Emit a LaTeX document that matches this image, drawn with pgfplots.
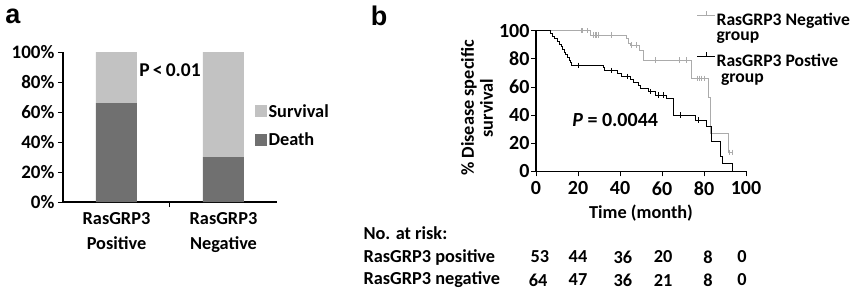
\documentclass[border=0pt]{standalone}
\usepackage{fontspec}
\setmainfont{Carlito}
\newfontfamily\arialf{Liberation Sans}
\usepackage{pgfplots}
\pgfplotsset{compat=1.18}
\definecolor{deathc}{HTML}{707070}
\definecolor{survc}{HTML}{C2C2C2}
\definecolor{negc}{HTML}{ABABAB}
\begin{document}
\begin{tikzpicture}[font=\bfseries\fontsize{18.3}{20}\selectfont]
\useasboundingbox (0pt,0pt) rectangle (852pt,-290pt);
\node[font=\arialf\bfseries\fontsize{27}{29}\selectfont] at (13pt,-16pt) {a};
\node[font=\arialf\bfseries\fontsize{27}{29}\selectfont] at (379pt,-16pt) {b};
% ---------------- panel a
\begin{axis}[
  at={(63pt,-202pt)}, anchor=south west, scale only axis,
  width=214pt, height=150pt,
  ybar stacked, bar width=41pt,
  xmin=-0.5, xmax=1.5, ymin=0, ymax=100,
  axis lines=left, axis line style={-, line width=1.1pt},
  /pgf/number format/assume math mode=true,
  xtick={0.5}, xticklabels={},
  extra x ticks={0,1},
  extra x tick labels={{RasGRP3\\Positive},{RasGRP3\\Negative}},
  extra x tick style={major tick length=0pt, xticklabel style={align=center,
     font=\bfseries\fontsize{18.3}{25}\selectfont, yshift=-7pt}},
  ytick={0,20,...,100},
  yticklabel={\pgfmathprintnumber{\tick}\%},
  yticklabel style={font=\bfseries\fontsize{19}{20}\selectfont},
  tick align=outside, major tick length=5pt,
  tick style={line width=1pt, black},
  legend style={at={(0.88,0.51)}, anchor=west, draw=none, fill=none,
     row sep=10pt, nodes={inner sep=2pt}},
  legend cell align=left,
  legend image code/.code={\fill[#1] (0pt,-6pt) rectangle (12pt,6pt);},
  reverse legend,
  clip=false,
]
\addplot[fill=deathc, draw=none] coordinates {(0,66) (1,30)};
\addplot[fill=survc, draw=none] coordinates {(0,34) (1,70)};
\legend{Death,Survival}
\node[font=\bfseries\fontsize{19.5}{21}\selectfont] at (axis cs:0.5,88) {P\,<\,0.01};
\end{axis}
% ---------------- panel b
\begin{axis}[
  at={(536pt,-171.3pt)}, anchor=south west, scale only axis,
  width=210pt, height=140.5pt,
  xmin=0, xmax=100, ymin=0, ymax=100,
  axis lines=left, axis line style={-, line width=1.1pt},
  /pgf/number format/assume math mode=true,
  xtick={0,20,...,100}, ytick={0,20,...,100},
  xticklabel style={font=\bfseries\fontsize{20}{22}\selectfont, yshift=-2pt},
  yticklabel style={font=\bfseries\fontsize{20}{22}\selectfont, xshift=2pt},
  tick align=outside, major tick length=5pt,
  tick style={line width=1pt, black},
  clip=false,
  legend style={at={(0.75,1.16)}, anchor=north west, draw=none, fill=none,
     row sep=24pt, nodes={inner sep=1pt, font=\bfseries\fontsize{17.6}{15.5}\selectfont}},
  legend cell align=left,
  legend image code/.code={\draw[#1] (0pt,5pt) -- (18pt,5pt); \draw[#1] (9pt,5pt) -- (9pt,9pt);},
]
\addplot[const plot, negc, line width=0.9pt] coordinates {
(0,100) (25.7,97) (43.2,94.7) (44.2,91.1) (45,89.9) (49.4,86.3) (51.1,79.2)
(74.1,66.2) (82.3,52.5) (83.3,27) (91.5,13.5) (94,13.5)};
\addlegendentry{\vtop{\hbox{RasGRP3 Negative}\hbox{group}}}
\addplot[const plot, black, line width=0.9pt] coordinates {
(0,100) (7,98.1) (8,96.2) (9,94.3) (10,92.5) (11,90.6) (12,88.7) (12.8,86.8)
(13.5,84.9) (14.2,83.0) (15,81.1) (15.7,79.2) (16.3,77.4) (17,75.5) (32,73.6)
(32.6,71.8) (38.8,69.8) (40.8,67.6) (44.8,65.4) (46.5,63.3) (48.7,61.4) (49.5,59)
(53.5,56.7) (56.7,54.3) (62.2,51.9) (65.4,40.1) (75.7,36.5) (81.3,31.7) (83.6,21)
(87.6,10.4) (88.9,5.7) (93.7,0) (93.7,0)};
\addlegendentry{\vtop{\hbox{RasGRP3 Postive}\hbox{\hspace{0.25em}group}}}
\addplot[only marks, mark=|, mark size=2.6pt, negc, line width=0.9pt, forget plot] coordinates {
(21.5,100) (22.3,100) (24.6,100) (27.4,97) (28.2,97) (28.9,97) (29.6,97) (36,97)
(45.4,89.9) (47.8,89.9) (56.8,79.2) (68.5,79.2) (71.5,79.2)
(77,66.2) (78,66.2) (79,66.2) (80,66.2) (92,13.5) (93.5,13.5)};
\addplot[only marks, mark=|, mark size=2.6pt, black, line width=0.9pt, forget plot] coordinates {
(20.2,75.5) (36,71.8) (43.5,67.6) (54.3,56.7) (58.2,54.3) (60.6,54.3) (68.6,40.1) (77.3,36.5)};
% numbers at risk
\addplot[draw=none, mark=none, forget plot, nodes near coords, point meta=explicit symbolic,
  nodes near coords style={anchor=center, inner sep=0pt}] coordinates {
(1.9,-61)[53] (20,-61)[44] (41.4,-61)[36] (60.5,-61)[20] (81.9,-61)[8] (98.1,-61)[0]
(1,-77.4)[64] (20,-77.4)[47] (41.4,-77.4)[36] (60.5,-77.4)[21] (81.9,-77.4)[8] (98.1,-77.4)[0]};
\node[font=\bfseries\fontsize{20}{22}\selectfont] at (axis cs:37.7,36.5) {\textit{P} = 0.0044};
\end{axis}
\node[rotate=90, align=center, font=\bfseries\fontsize{18.3}{19}\selectfont] at (477pt,-108pt) {\% Disease specific\\survival};
\node at (641pt,-213pt) {Time (month)};
\node[anchor=west] at (360pt,-233pt) {No. at risk:};
\node[anchor=west] at (360pt,-257pt) {RasGRP3 positive};
\node[anchor=west] at (360pt,-280pt) {RasGRP3 negative};
\end{tikzpicture}
\end{document}
